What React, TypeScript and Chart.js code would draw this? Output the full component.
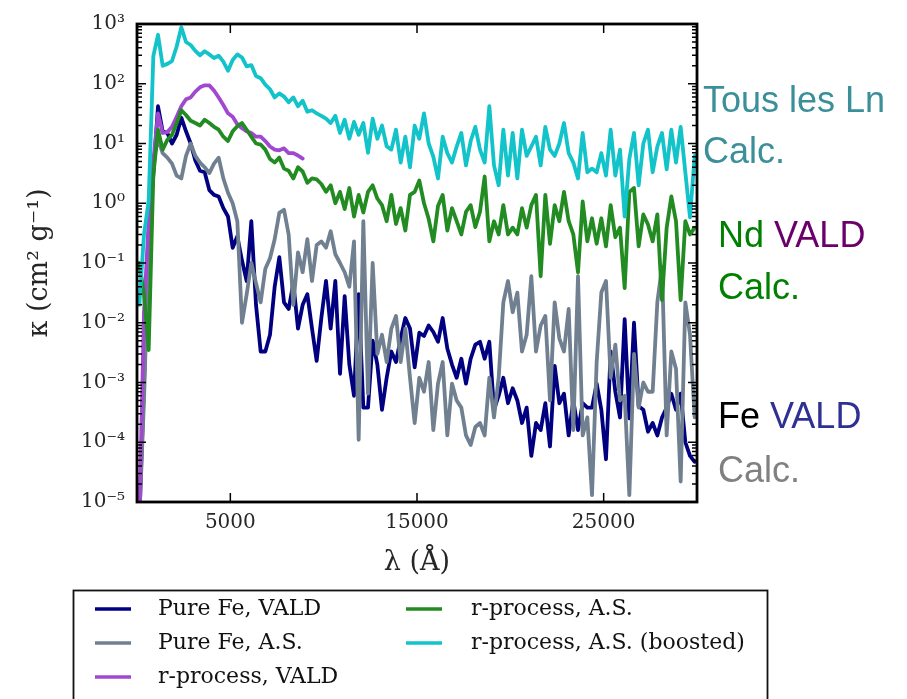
import React, { useEffect, useRef } from 'react';
import { Chart, registerables } from 'chart.js';

Chart.register(...registerables);

// Wavelength grid (Å)
const wavelength = [
  125, 375, 625, 875, 1125, 1375, 1625, 1875, 2125, 2375,
  2625, 2875, 3125, 3375, 3625, 3875, 4125, 4375, 4625, 4875,
  5125, 5375, 5625, 5875, 6125, 6375, 6625, 6875, 7125, 7375,
  7625, 7875, 8125, 8375, 8625, 8875, 9125, 9375, 9625, 9875,
  10125, 10375, 10625, 10875, 11125, 11375, 11625, 11875, 12125, 12375,
  12625, 12875, 13125, 13375, 13625, 13875, 14125, 14375, 14625, 14875,
  15125, 15375, 15625, 15875, 16125, 16375, 16625, 16875, 17125, 17375,
  17625, 17875, 18125, 18375, 18625, 18875, 19125, 19375, 19625, 19875,
  20125, 20375, 20625, 20875, 21125, 21375, 21625, 21875, 22125, 22375,
  22625, 22875, 23125, 23375, 23625, 23875, 24125, 24375, 24625, 24875,
  25125, 25375, 25625, 25875, 26125, 26375, 26625, 26875, 27125, 27375,
  27625, 27875, 28125, 28375, 28625, 28875, 29125, 29375, 29625, 29875,
];

// Opacity kappa (cm^2 g^-1)
const pureFeVald = [
  5e-6, 1e-3, 0.3, 3, 42, 16, 15, 10, 14, 27,
  16, 10, 5.2, 3.5, 3.3, 1.66, 1.38, 1.3, 0.83, 0.6,
  0.18, 0.28, 0.11, 0.05, 0.5, 0.02, 0.0033, 0.0033, 0.0063, 0.04,
  0.125, 0.022, 0.017, 0.046, 0.008, 0.02, 0.03, 0.008, 0.0023, 0.012,
  0.05, 0.008, 0.05, 0.0014, 0.028, 0.002, 6e-4, 0.03, 3.8e-4, 3.8e-4,
  0.005, 0.002, 3.5e-4, 0.0012, 0.0033, 0.0022, 0.0055, 0.012, 0.008, 0.0018,
  0.0068, 0.006, 0.009, 0.007, 0.0048, 0.012, 0.0037, 0.002, 0.0012, 0.0025,
  9.6e-4, 0.0025, 0.0043, 0.0048, 0.0025, 0.0048, 3.5e-4, 6e-4, 0.0012, 4.5e-4,
  8e-4, 5e-4, 2.1e-4, 3.8e-4, 5.9e-5, 2.1e-4, 1.6e-4, 4.5e-4, 8.5e-5, 0.0019,
  4.5e-4, 6.5e-4, 1.3e-4, 5e-4, 1.6e-4, 4.5e-4, 3.8e-4, 3.8e-4, 9.6e-4, 3.5e-4,
  5.2e-5, 0.0033, 7e-4, 2.6e-4, 0.0115, 2.5e-4, 0.01, 4e-4, 3.5e-4, 1.5e-4,
  2.1e-4, 1.3e-4, 2.6e-4, 3.8e-4, 6.5e-4, 3.5e-4, 6.5e-4, 1e-4, 5.9e-5, 4.7e-5,
];

const pureFeAS = [
  5e-6, 5e-4, 0.2, 5, 12, 6.9, 5.8, 4.6, 2.9, 2.6,
  6.2, 10, 6.2, 4.8, 4.0, 3.2, 4.6, 5.8, 2.6, 1.5,
  1.0, 0.5, 0.01, 0.03, 0.1, 0.046, 0.022, 0.08, 0.12, 0.25,
  0.69, 0.78, 0.3, 0.02, 0.15, 0.07, 0.25, 0.05, 0.2, 0.23,
  0.18, 0.34, 0.14, 0.1, 0.07, 0.04, 0.23, 1.1e-4, 0.5, 6.5e-4,
  0.1, 0.003, 0.0063, 0.0022, 0.008, 0.013, 0.0022, 0.008, 0.0012, 2.1e-4,
  0.0012, 7e-4, 0.0022, 1.6e-4, 9.6e-4, 0.0022, 1.3e-4, 9.6e-4, 5e-4, 3.8e-4,
  1.3e-4, 9e-5, 1.8e-4, 2.1e-4, 1.3e-4, 0.0012, 2.6e-4, 0.0012, 0.022, 0.05,
  0.015, 0.032, 0.0033, 0.0063, 0.06, 0.0033, 0.009, 0.013, 5e-4, 0.022,
  0.0055, 0.0033, 0.017, 1.6e-4, 0.06, 1.3e-4, 2.6e-4, 1.3e-5, 0.0022, 0.032,
  0.05, 0.0012, 0.0043, 5e-4, 6e-4, 1.3e-5, 0.003, 3.8e-4, 1e-3, 7e-4,
  7e-4, 0.022, 0.087, 1.3e-4, 0.0033, 0.0017, 2.2e-5, 0.022, 0.0063, 2.6e-4,
];

const rProcessVald = [
  5e-6, 0.015, 0.5, 5, 32, 15, 15.5, 19, 28, 42,
  55, 59, 74, 87, 94, 94, 77, 59, 44, 32,
  28, 21, 18, 16, 15, 13, 13, 11, 8.9, 7.9,
  7.7, 8.3, 6.9, 6.9, 6.3, 5.6,
];

const rProcessAS = [
  0.1, 0.03, 0.0035, 3, 17, 7.9, 11.5, 14, 22, 36,
  30, 24, 22, 20, 25, 22, 19, 17, 13, 11,
  16, 19.5, 22, 17, 13, 10, 9.6, 7.9, 5.5, 4.8,
  5.8, 3.8, 3.5, 2.6, 4.0, 3.4, 2.2, 2.6, 2.5, 2.1,
  1.55, 2.0, 1.0, 1.55, 0.8, 1.8, 0.6, 1.38, 0.7, 1.55,
  2.0, 1.2, 0.93, 0.5, 1.38, 0.45, 0.83, 0.35, 1.38, 1.55,
  2.4, 1.0, 0.55, 0.23, 0.9, 1.38, 0.35, 0.83, 0.5, 0.3,
  0.72, 0.93, 0.4, 0.72, 2.8, 0.23, 0.5, 0.3, 0.93, 0.3,
  0.39, 0.3, 0.83, 0.39, 0.93, 1.38, 0.06, 1.38, 0.21, 0.93,
  0.5, 1.55, 0.5, 0.3, 0.07, 1.07, 0.23, 0.56, 0.21, 0.56,
  0.19, 0.93, 0.27, 0.39, 0.038, 1.55, 1.8, 0.19, 0.65, 0.44,
  0.23, 0.65, 0.024, 0.39, 1.3, 0.5, 0.024, 0.5, 0.3, 0.39,
];

const rProcessBoosted = [
  0.02, 0.3, 1.1, 290, 660, 200, 215, 240, 420, 880,
  500, 445, 355, 300, 350, 310, 270, 295, 235, 165,
  250, 310, 275, 195, 205, 135, 124, 97, 81, 59,
  69, 61, 49, 59, 42, 52, 34, 36, 32, 29,
  26, 22, 29, 15, 25, 12, 23, 14, 22, 7,
  26, 12, 20, 9, 7.9, 17, 4.8, 13, 4.0, 20,
  12, 32, 10, 6, 2.6, 13, 6.9, 4.8, 8.9, 15,
  4.3, 11, 19, 7.9, 4.8, 42, 4.3, 2.0, 17, 2.9,
  15, 2.6, 17, 6.2, 8.9, 13, 4.3, 19, 7.9, 6.2,
  10, 22, 6.9, 4.8, 2.6, 15, 3.3, 3.8, 3.3, 6.9,
  2.9, 17, 2.9, 7.9, 0.6, 5.5, 15, 2.0, 10, 17,
  3.3, 8.9, 15, 3.7, 17, 4.8, 19, 3.3, 0.58, 6.2,
];

const seriesLabels = [
  'Pure Fe, VALD',
  'Pure Fe, A.S.',
  'r-process, VALD',
  'r-process, A.S.',
  'r-process, A.S. (boosted)',
];
const seriesColors = ['#000080', '#708090', '#a048d0', '#228b22', '#12c3c9'];

const yTickValues = [1e-5, 1e-4, 1e-3, 1e-2, 1e-1, 1, 10, 100, 1000];
const yTickLabels = ['10⁻⁵', '10⁻⁴', '10⁻³', '10⁻²', '10⁻¹', '10⁰', '10¹', '10²', '10³'];
const xTickValues = [5000, 15000, 25000];
const xTickLabels = ['5000', '15000', '25000'];

const xTitle = 'λ (Å)';
const yTitle = 'κ (cm² g⁻¹)';

const noteLines = [
  [{ text: 'Tous les Ln', color: '#3a8f99' }],
  [{ text: 'Calc.', color: '#3a8f99' }],
  [{ text: 'Nd ', color: '#008000' }, { text: 'VALD', color: '#6b006b' }],
  [{ text: 'Calc.', color: '#008000' }],
  [{ text: 'Fe ', color: '#000000' }, { text: 'VALD', color: '#2e3192' }],
  [{ text: 'Calc.', color: '#808080' }],
];

const framePlugin = {
  id: 'frame',
  afterDatasetsDraw(chart: any) {
    const { ctx, chartArea, scales } = chart;
    const { left, right, top, bottom } = chartArea;
    const x = scales.x;
    const y = scales.y;
    ctx.save();
    ctx.strokeStyle = '#000';
    ctx.lineWidth = 1.5;
    ctx.beginPath();
    for (let k = -5; k <= 3; k++) {
      const base = Math.pow(10, k);
      const py = y.getPixelForValue(base);
      ctx.moveTo(left, py);
      ctx.lineTo(left + 9, py);
      ctx.moveTo(right, py);
      ctx.lineTo(right - 9, py);
      if (k < 3) {
        for (let m = 2; m <= 9; m++) {
          const pm = y.getPixelForValue(m * base);
          ctx.moveTo(left, pm);
          ctx.lineTo(left + 5, pm);
          ctx.moveTo(right, pm);
          ctx.lineTo(right - 5, pm);
        }
      }
    }
    xTickValues.forEach((v) => {
      const px = x.getPixelForValue(v);
      ctx.moveTo(px, bottom);
      ctx.lineTo(px, bottom - 9);
      ctx.moveTo(px, top);
      ctx.lineTo(px, top + 9);
    });
    ctx.stroke();
    ctx.lineWidth = 2.8;
    ctx.strokeRect(left, top, right - left, bottom - top);
    ctx.restore();
  },
};

const legendPlugin = {
  id: 'boxLegend',
  afterDraw(chart: any) {
    const ctx = chart.ctx;
    ctx.save();
    ctx.lineWidth = 1.8;
    ctx.strokeStyle = '#111';
    ctx.strokeRect(73.5, 590.5, 694, 160);
    const cols = [
      { lineX: 95, textX: 158, items: [0, 1, 2] },
      { lineX: 406, textX: 471, items: [3, 4] },
    ];
    const rowY = [609, 643, 677];
    ctx.font = '22px "DejaVu Serif"';
    ctx.textBaseline = 'middle';
    cols.forEach((c) => {
      c.items.forEach((idx, r) => {
        ctx.strokeStyle = seriesColors[idx];
        ctx.lineWidth = 3.6;
        ctx.beginPath();
        ctx.moveTo(c.lineX, rowY[r]);
        ctx.lineTo(c.lineX + 36, rowY[r]);
        ctx.stroke();
        ctx.fillStyle = '#111';
        ctx.fillText(seriesLabels[idx], c.textX, rowY[r]);
      });
    });
    ctx.restore();
  },
};

const notesPlugin = {
  id: 'sideNotes',
  afterDraw(chart: any) {
    const ctx = chart.ctx;
    const xs = [703, 703, 718, 718, 718, 718];
    const baselines = [112, 163, 247, 299, 428, 482];
    ctx.save();
    ctx.font = '36px "Liberation Sans"';
    ctx.textBaseline = 'alphabetic';
    noteLines.forEach((parts, i) => {
      let cx = xs[i];
      parts.forEach((p) => {
        ctx.fillStyle = p.color;
        ctx.fillText(p.text, cx, baselines[i]);
        cx += ctx.measureText(p.text).width;
      });
    });
    ctx.restore();
  },
};

export default function App() {
  const canvasRef = useRef<HTMLCanvasElement | null>(null);

  useEffect(() => {
    const canvas = canvasRef.current;
    if (!canvas) return;
    const series = [pureFeVald, pureFeAS, rProcessVald, rProcessAS, rProcessBoosted];
    const orders = [5, 4, 3, 2, 1];
    const datasets = series.map((vals, s) => ({
      label: seriesLabels[s],
      data: vals.map((v, i) => ({ x: wavelength[i], y: v })),
      borderColor: seriesColors[s],
      backgroundColor: seriesColors[s],
      borderWidth: 3.8,
      borderJoinStyle: 'round',
      borderCapStyle: 'round',
      pointRadius: 0,
      tension: 0,
      fill: false,
      order: orders[s],
    }));

    const chart = new Chart(canvas, {
      type: 'line',
      data: { datasets },
      options: {
        animation: false,
        responsive: false,
        devicePixelRatio: 1,
        events: [],
        elements: { line: { borderWidth: 3.8 } },
        layout: { padding: { left: 0, right: 210, top: 15, bottom: 120 } },
        plugins: {
          legend: { display: false },
          tooltip: { enabled: false },
        },
        scales: {
          x: {
            type: 'linear',
            min: 0,
            max: 30000,
            afterBuildTicks: (scale: any) => {
              scale.ticks = xTickValues.map((v) => ({ value: v }));
            },
            afterFit: (scale: any) => {
              scale.height = 77;
            },
            ticks: {
              autoSkip: false,
              maxRotation: 0,
              padding: 9,
              color: '#262626',
              font: { family: '"DejaVu Serif"', size: 20 },
              callback: (_v: any, i: number) => xTickLabels[i],
            },
            grid: { display: false, drawTicks: false },
            border: { display: false },
            title: {
              display: true,
              text: xTitle,
              color: '#262626',
              font: { family: '"DejaVu Serif"', size: 27 },
              padding: { top: 0, bottom: 0 },
            },
          },
          y: {
            type: 'logarithmic',
            min: 1e-5,
            max: 1e3,
            afterBuildTicks: (scale: any) => {
              scale.ticks = yTickValues.map((v) => ({ value: v, major: true }));
            },
            afterFit: (scale: any) => {
              scale.width = 137;
            },
            ticks: {
              autoSkip: false,
              padding: 12,
              color: '#262626',
              font: { family: '"DejaVu Serif"', size: 20 },
              callback: (_v: any, i: number) => yTickLabels[i],
            },
            grid: { display: false, drawTicks: false },
            border: { display: false },
            title: {
              display: true,
              text: yTitle,
              color: '#262626',
              font: { family: '"DejaVu Serif"', size: 27 },
              padding: { top: 24, bottom: 0 },
            },
          },
        },
      },
      plugins: [framePlugin, legendPlugin, notesPlugin],
    } as any);

    return () => chart.destroy();
  }, []);

  return (
    <div style={{ position: 'fixed', left: 0, top: 0, width: 907, height: 699, background: '#fff' }}>
      <canvas ref={canvasRef} width={907} height={699} style={{ width: 907, height: 699, display: 'block' }} />
    </div>
  );
}
